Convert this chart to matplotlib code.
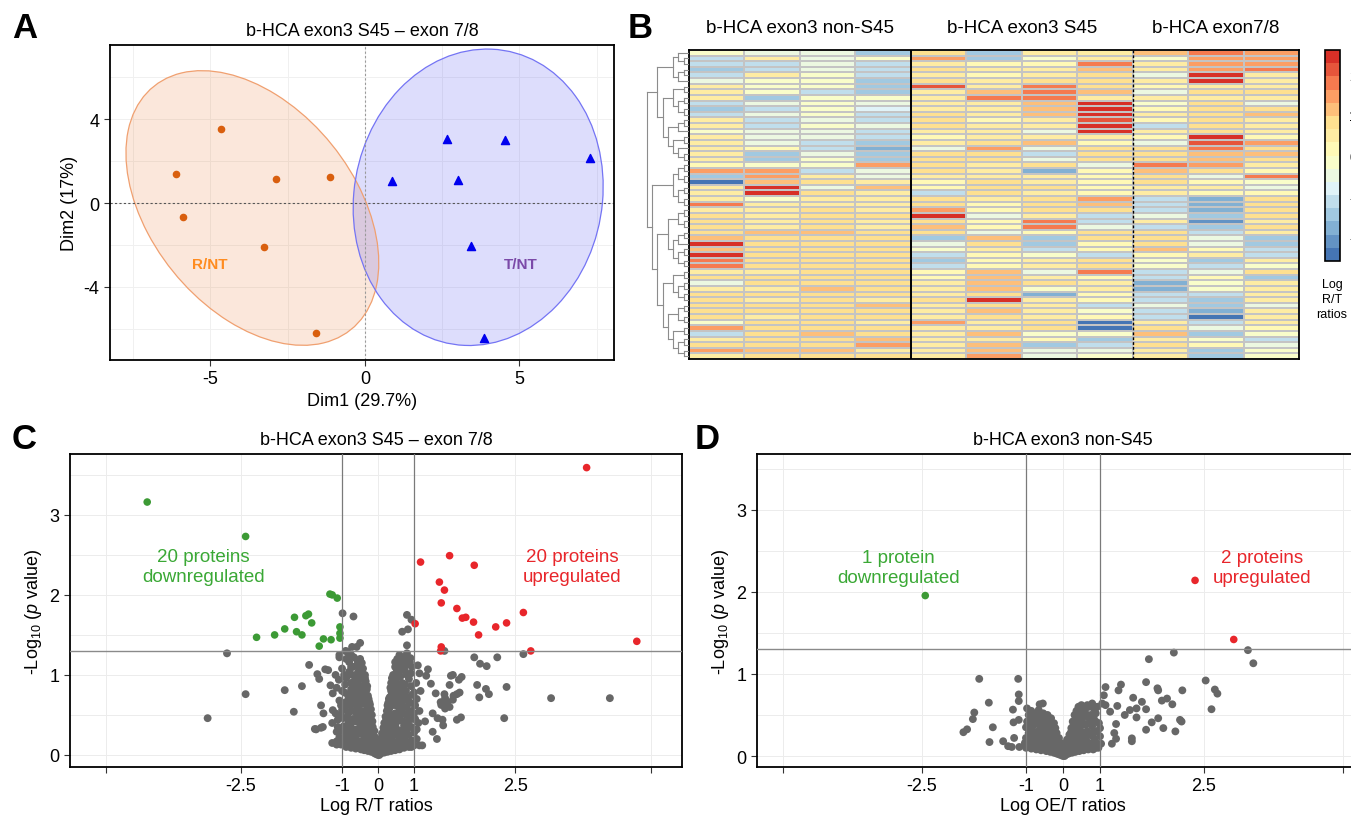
import numpy as np
import matplotlib
matplotlib.use("Agg")
import matplotlib.pyplot as plt
from matplotlib.colors import LinearSegmentedColormap, ListedColormap, Normalize
from matplotlib.patches import Ellipse
from matplotlib.cm import ScalarMappable

plt.rcParams['font.family'] = ['Liberation Sans', 'DejaVu Sans']
plt.rcParams['mathtext.fontset'] = 'custom'
plt.rcParams['mathtext.rm'] = 'Liberation Sans'
plt.rcParams['mathtext.it'] = 'Liberation Sans:italic'
plt.rcParams['axes.unicode_minus'] = False

# ---------------- panel A: PCA ----------------
rnt_x = [-4.65, -6.11, -2.89, -1.12, -5.90, -3.26, -1.57]
rnt_y = [3.56, 1.38, 1.14, 1.26, -0.68, -2.10, -6.22]
tnt_x = [0.88, 2.67, 3.02, 4.52, 7.28, 3.43, 3.85]
tnt_y = [1.07, 3.05, 1.11, 3.02, 2.15, -2.03, -6.45]
ellipse_level = 0.8

# ---------------- panel B: heatmap ----------------
group_names = ["b-HCA exon3 non-S45", "b-HCA exon3 S45", "b-HCA exon7/8"]
group_sizes = [4, 4, 3]
heat_values = [
    [-0.3, -0.6, -0.6, -1.5, 0.8, -1.5, 0.35, 0.55, 1.1, 1.8, 1.4],
    [-1.0, 0.55, -0.6, -0.2, 1.4, -1.5, -0.2, 0.55, -0.2, 1.4, 1.4],
    [-1.0, -1.0, -0.6, -1.0, 0.55, 0.1, 0.1, 1.9, 0.55, 1.4, 1.5],
    [-1.4, -1.0, -0.6, -1.0, 0.8, 0.35, 0.55, 1.1, 0.55, 1.4, 1.9],
    [-1.0, 0.35, -0.3, -1.0, 0.55, 0.1, 0.55, 0.8, -0.6, 2.4, 0.55],
    [-0.6, -0.2, -0.3, -1.4, 0.8, 0.35, 0.8, 0.8, 0.35, 2.4, 0.4],
    [0.35, -0.1, -0.2, -1.5, 2.1, 0.55, 1.8, 0.8, 0.0, 0.55, 0.55],
    [0.35, -0.2, -1.0, -1.6, 0.55, 1.1, 1.9, 1.1, -0.6, 0.8, 0.7],
    [0.45, -1.5, -0.2, -0.2, 0.55, 1.8, 1.9, 0.35, 0.35, 0.55, 0.55],
    [-1.0, -0.6, -0.3, -0.6, 0.55, 0.35, 1.1, 2.4, -0.3, 0.8, -0.6],
    [-1.4, -1.0, -0.3, -0.9, 0.55, 0.35, 1.1, 2.3, 0.2, 0.8, 0.7],
    [-1.0, -0.6, -0.2, -1.0, 0.8, 0.35, 1.0, 2.3, 0.55, 0.8, 1.0],
    [0.45, -1.0, -0.6, -1.0, 0.7, 0.2, 0.55, 2.2, 0.1, 0.8, 0.55],
    [0.35, -1.0, -0.3, -0.6, 0.8, 0.55, 0.35, 2.3, -1.0, 0.8, 0.55],
    [-0.1, -0.6, -0.6, -1.0, 0.35, 0.55, -0.6, 2.3, 0.55, 0.8, 0.55],
    [0.55, -0.6, -0.6, -1.0, 0.1, 0.55, 0.55, 0.35, 0.1, 2.5, 0.1],
    [0.55, -0.6, -1.0, -1.5, 0.35, 0.7, 1.1, 0.2, -0.6, 2.0, 1.3],
    [0.35, 0.1, -1.0, -1.8, -0.6, 1.3, -0.6, 0.7, 0.7, 1.8, 0.8],
    [0.55, -1.4, -0.6, -1.5, 0.8, 0.8, -1.0, 0.7, 0.8, 1.1, 1.1],
    [0.55, -1.4, -0.3, -1.5, 0.8, 0.8, -0.6, 0.7, 0.7, 1.1, 0.8],
    [0.1, -0.1, -0.2, 1.3, 0.7, 0.55, 0.7, -0.6, 1.9, 1.6, 0.55],
    [1.5, 1.6, -1.0, -0.6, 0.8, 0.35, -1.7, 0.0, 1.1, 0.8, 0.0],
    [-1.5, 1.3, 0.45, -0.6, 0.55, 0.55, 0.45, 0.1, 0.8, -0.6, 1.9],
    [-2.4, 1.1, 0.7, 0.55, 0.1, 0.8, 0.55, 0.1, 0.7, 0.1, -0.3],
    [0.55, 2.3, -0.6, 1.1, 0.1, 0.8, 0.7, 0.1, 0.35, 0.35, -0.6],
    [0.35, 2.3, 0.8, 0.55, -1.0, 0.7, 0.55, 0.1, 0.55, 0.1, 0.0],
    [0.35, -0.1, 0.55, 0.55, 0.7, 0.45, 0.9, 1.3, -1.0, -1.7, 0.7],
    [1.8, 0.35, 0.45, 0.55, 0.8, 0.1, 0.8, 1.1, -1.0, -1.7, 0.8],
    [0.55, 0.35, 0.7, 0.45, 1.5, 0.0, 0.8, 0.7, -1.0, -1.7, 0.8],
    [0.7, 0.35, 0.7, 0.7, 2.3, -0.6, 0.55, -1.0, -0.6, -1.5, 0.8],
    [0.7, 0.45, 0.7, 0.45, 0.8, 0.0, 1.9, -1.0, 0.55, -2.1, 0.55],
    [0.8, 0.45, 0.8, 0.35, 1.1, 0.1, 1.8, -0.6, -1.0, -1.4, 0.8],
    [0.8, 1.1, 1.1, 0.7, 0.7, -0.6, 0.1, 0.7, 0.7, -1.0, 0.55],
    [1.1, 0.8, 0.7, 0.7, -1.4, 1.2, -1.4, 0.7, 0.7, -0.6, -1.4],
    [2.3, 0.9, 0.7, 0.7, -0.6, 0.8, -1.4, 0.1, 0.7, -0.6, -1.4],
    [1.2, 0.8, 0.7, 0.7, -0.2, 0.45, -1.0, 0.1, 1.2, 0.0, -1.0],
    [2.3, 0.8, 0.7, 0.7, -1.0, 0.1, -0.2, -1.0, 0.0, 0.35, -1.3],
    [1.9, 0.8, 0.7, 0.7, -1.4, 0.0, 0.45, 0.7, -0.1, -1.4, 0.45],
    [1.9, 0.8, 0.7, 0.7, -1.0, 0.1, 0.35, 0.8, -0.2, -1.2, -0.1],
    [0.55, 0.35, 0.7, 0.7, 0.1, 1.1, -0.6, 1.9, -1.0, -0.6, 0.7],
    [0.7, 0.8, 0.7, 0.8, 0.1, 1.2, 0.55, 0.1, -1.0, 0.0, -1.6],
    [-0.6, 0.8, 0.7, 0.7, 0.55, 1.2, 0.7, 0.35, -1.9, -0.2, 0.45],
    [0.55, 0.35, 1.1, 0.8, 0.55, 1.2, -0.1, 0.45, -1.9, -0.2, 0.45],
    [0.8, 0.7, 0.8, 0.8, 0.45, 0.9, -1.9, 0.2, -1.0, -1.2, 0.55],
    [0.8, 0.45, 0.8, 0.35, 0.7, 2.3, 0.35, 0.1, -1.0, -1.4, 0.55],
    [0.8, 0.8, 0.8, 1.2, 0.55, 0.7, 0.35, -1.0, -0.6, -1.5, -0.6],
    [0.8, 0.8, 0.8, 0.8, 0.35, 1.1, 0.35, -0.1, -1.0, -1.8, 0.45],
    [0.8, 0.45, 0.8, 0.8, 0.55, 0.8, 0.35, 0.0, -1.2, -2.4, 0.55],
    [-0.2, 0.7, 0.8, 0.55, 1.4, 0.45, 0.8, -2.3, 0.45, -1.0, 0.45],
    [1.5, 0.8, 0.8, 0.8, 0.35, 0.45, 0.7, -2.4, 0.7, -0.6, 0.0],
    [-1.0, 0.8, 1.1, 0.8, 0.35, 1.1, -0.1, -0.2, 1.2, -1.4, -0.1],
    [0.45, 0.8, 0.8, 1.1, 0.45, 0.55, 0.1, -1.5, 0.55, -0.2, -1.0],
    [0.8, 0.8, 0.8, 1.5, 0.35, 1.1, -1.5, -1.0, 0.8, 0.0, -0.6],
    [1.3, 1.2, 1.1, 0.45, 0.45, 1.2, -0.6, -0.6, 0.55, -1.5, -0.2],
    [0.55, 0.8, 0.8, 0.7, 0.35, 1.6, -0.6, -0.2, 0.55, -1.5, -0.2],
]
row_tree = [
    [[[0, [1, 2]], [[3, 4], 5]],
     [[[6, 7], [[8, 9], [10, 11]]], [[[12, 13], 14], [[15, 16], [17, [18, 19]]]]]],
    [[[[20, 21], [22, 23]], [[24, 25], [26, 27]]],
     [[[[28, 29], [30, 31]], [[[32, 33], 34], [[35, 36], [37, 38]]]],
      [[[39, 40], [[41, 42], [43, 44]]],
       [[[45, 46], [47, 48]], [[49, 50], [[51, 52], [53, 54]]]]]]],
]
heat_palette = ["#4575B4", "#91BFDB", "#E0F3F8", "#FFFFBF", "#FEE090", "#FC8D59", "#D73027"]
cbar_ticks = [-2, -1, 0, 1, 2]

# ---------------- panels C / D: volcano ----------------
vol_ticks = [-4, -2.5, -1, 0, 1, 2.5, 4]
vol_ticklabels = ["", "-2.5", "-1", "0", "1", "2.5", ""]

c_down = [(-3.57, 3.16), (-2.44, 2.73), (-2.30, 1.47), (-2.06, 1.50), (-1.92, 1.575),
          (-1.78, 1.72), (-1.75, 1.54), (-1.67, 1.50), (-1.61, 1.74), (-1.57, 1.76),
          (-1.52, 1.65), (-1.40, 1.36), (-1.33, 1.45), (-1.22, 2.01), (-1.18, 2.00),
          (-1.20, 1.44), (-1.09, 1.96), (-1.04, 1.60), (-1.04, 1.52), (-1.04, 1.46)]
c_up = [(3.33, 3.59), (1.12, 2.41), (1.60, 2.49), (1.96, 2.37), (1.44, 2.16),
        (1.52, 2.06), (1.47, 1.90), (1.71, 1.83), (1.79, 1.71), (1.84, 1.72),
        (1.95, 1.66), (2.02, 1.50), (2.25, 1.60), (2.39, 1.65), (2.60, 1.78),
        (2.69, 1.30), (1.02, 1.64), (1.47, 1.35), (1.46, 1.30), (3.86, 1.42)]
c_grey = [
    (-2.67, 1.27), (-2.44, 0.76), (-2.90, 0.46), (-1.92, 0.81), (-1.79, 0.54), (-1.67, 0.86),
    (-1.56, 1.125), (-1.43, 1.01), (-1.45, 0.32), (-1.34, 0.35), (-1.25, 1.06), (-0.99, 1.77),
    (-0.77, 1.73), (-0.62, 1.40), (-0.70, 1.35), (-0.93, 1.30), (-1.05, 1.22), (-0.86, 1.22),
    (0.86, 1.75), (0.95, 1.69), (0.76, 1.54), (0.86, 1.37), (0.88, 1.57), (1.52, 1.30),
    (1.96, 1.22), (2.04, 1.14), (2.13, 1.11), (2.27, 1.22), (2.60, 1.26), (1.65, 1.0),
    (1.78, 0.975), (1.74, 0.94), (1.60, 0.875), (2.00, 0.875), (2.12, 0.825), (2.16, 0.76),
    (2.39, 0.85), (1.71, 0.76), (1.75, 0.78), (2.03, 0.72), (2.36, 0.46), (1.71, 0.44),
    (1.77, 0.47), (2.93, 0.71), (3.58, 0.71), (1.52, 0.76), (1.53, 0.58), (1.47, 0.625),
    (1.41, 0.46), (1.49, 0.44), (1.65, 0.69), (1.57, 0.66),
    (-1.30, 1.07), (-1.40, 0.95), (-1.21, 0.87), (-1.17, 0.77), (-1.37, 0.62), (-1.33, 0.52),
    (-1.47, 0.325), (-1.37, 0.34), (-1.17, 0.56), (-1.10, 0.29), (-1.18, 0.15), (-1.10, 0.17),
    (1.25, 1.07), (1.22, 0.99), (1.30, 0.89), (1.38, 0.77), (1.53, 0.71), (1.60, 0.60),
    (1.33, 0.52), (1.46, 0.66), (1.33, 0.29), (1.40, 0.20), (1.15, 0.12), (1.50, 0.37),
    (1.62, 0.99), (1.66, 0.74), (-0.80, 1.35), (-0.90, 1.29), (-1.05, 1.25), (-0.82, 1.25),
    (0.70, 1.25), (0.86, 1.27), (0.93, 1.21), (1.07, 1.12),
    (0.0, 0.0), (0.03, 0.02), (-0.04, 0.03), (0.08, 0.04), (-0.09, 0.05), (0.14, 0.06),
    (-0.15, 0.06), (0.2, 0.05), (-0.22, 0.07), (0.27, 0.08), (-0.3, 0.08), (0.35, 0.07),
    (-0.38, 0.09), (0.45, 0.08), (-0.47, 0.1), (0.55, 0.1), (-0.56, 0.11), (0.65, 0.11),
    (-0.66, 0.12), (0.75, 0.13), (-0.78, 0.12), (0.86, 0.14), (-0.88, 0.13), (0.05, 0.1),
    (-0.06, 0.12), (0.12, 0.14), (-0.13, 0.15), (0.24, 0.13), (-0.25, 0.14), (0.4, 0.15),
    (-0.42, 0.16), (0.6, 0.16), (-0.62, 0.17), (0.95, 0.1), (-1.02, 0.13), (-1.1, 0.13),
    (1.1, 0.12),
    (0.17, 0.2), (-0.17, 0.22), (0.22, 0.27), (-0.21, 0.3), (0.3, 0.22), (-0.32, 0.24),
    (0.38, 0.3), (-0.36, 0.33), (0.5, 0.2), (-0.52, 0.22), (0.48, 0.3), (-0.48, 0.3),
    (0.58, 0.25), (-0.6, 0.27), (0.7, 0.2), (-0.72, 0.22), (0.68, 0.3), (-0.7, 0.32),
    (0.8, 0.22), (-0.82, 0.24), (0.78, 0.32), (-0.8, 0.33), (0.9, 0.25), (-0.92, 0.26),
    (0.88, 0.34), (-0.9, 0.35), (1.0, 0.28), (-1.0, 0.3), (1.05, 0.2), (-1.05, 0.22),
    (0.27, 0.34), (-0.27, 0.35), (0.62, 0.34), (-0.62, 0.35),
    (0.3, 0.4), (-0.28, 0.42), (0.34, 0.48), (-0.3, 0.5), (0.38, 0.55), (-0.33, 0.57),
    (0.45, 0.4), (-0.44, 0.42), (0.5, 0.5), (-0.46, 0.52), (0.55, 0.42), (-0.55, 0.45),
    (0.6, 0.52), (-0.58, 0.55), (0.66, 0.43), (-0.66, 0.46), (0.72, 0.5), (-0.7, 0.52),
    (0.78, 0.42), (-0.78, 0.45), (0.84, 0.5), (-0.82, 0.55), (0.9, 0.44), (-0.9, 0.46),
    (0.95, 0.55), (-0.95, 0.58), (1.02, 0.45), (-1.02, 0.5), (0.42, 0.58), (-0.4, 0.6),
    (0.7, 0.58), (-0.68, 0.6), (1.1, 0.55), (-1.12, 0.52), (1.2, 0.42), (-1.18, 0.4),
    (0.42, 0.65), (-0.38, 0.66), (0.46, 0.72), (-0.42, 0.74), (0.5, 0.8), (-0.45, 0.82),
    (0.55, 0.65), (-0.52, 0.68), (0.6, 0.75), (-0.58, 0.76), (0.66, 0.66), (-0.64, 0.7),
    (0.72, 0.78), (-0.7, 0.8), (0.78, 0.68), (-0.76, 0.7), (0.84, 0.8), (-0.82, 0.82),
    (0.9, 0.66), (-0.88, 0.68), (0.96, 0.75), (-0.95, 0.78), (1.05, 0.7), (-1.05, 0.68),
    (1.12, 0.8), (-1.1, 0.84), (0.55, 0.84), (-0.6, 0.86),
    (0.5, 0.9), (-0.48, 0.92), (0.55, 1.0), (-0.5, 1.0), (0.6, 1.1), (-0.55, 1.08),
    (0.62, 0.92), (-0.62, 0.95), (0.68, 1.02), (-0.66, 1.04), (0.72, 1.15), (-0.7, 1.12),
    (0.76, 0.9), (-0.75, 0.92), (0.82, 1.05), (-0.8, 1.0), (0.88, 1.18), (-0.86, 1.16),
    (0.9, 0.95), (-0.92, 0.96), (0.96, 1.1), (-1.0, 1.08), (1.04, 0.9), (-1.06, 0.94),
    (0.65, 1.2), (-0.62, 1.2), (0.8, 1.22), (-0.85, 1.24), (1.1, 1.02), (-1.12, 1.0),
    (0.1, 0.0), (-0.12, 0.01), (0.18, 0.02), (-0.2, 0.02), (0.3, 0.03), (-0.32, 0.04),
    (0.4, 0.04), (-0.42, 0.05), (0.5, 0.05), (-0.52, 0.06), (0.6, 0.06), (-0.6, 0.07),
    (0.7, 0.07), (-0.72, 0.08), (0.8, 0.09), (-0.82, 0.09), (0.9, 0.1), (-0.92, 0.1),
    (1.0, 0.12), (-0.97, 0.14), (0.15, 0.1), (-0.17, 0.1), (0.3, 0.12), (-0.33, 0.13),
    (0.5, 0.14), (-0.52, 0.15), (0.7, 0.15), (-0.72, 0.16), (0.82, 0.18), (-0.86, 0.19),
    (0.95, 0.18), (-0.98, 0.2), (0.2, 0.17), (-0.24, 0.18), (0.36, 0.2), (-0.4, 0.21),
    (0.45, 0.25), (-0.45, 0.26), (0.55, 0.3), (-0.55, 0.32), (0.65, 0.25), (-0.66, 0.27),
    (0.75, 0.28), (-0.76, 0.29), (0.85, 0.3), (-0.86, 0.3), (0.95, 0.35), (-0.97, 0.36),
    (1.05, 0.32), (-1.08, 0.35), (0.33, 0.37), (-0.32, 0.39), (0.42, 0.35), (-0.4, 0.37),
    (0.52, 0.38), (-0.52, 0.38), (0.62, 0.4), (-0.62, 0.4), (0.7, 0.44), (-0.72, 0.42),
    (0.8, 0.37), (-0.82, 0.4), (0.88, 0.4), (-0.87, 0.41), (0.98, 0.45), (-0.98, 0.46),
    (1.08, 0.4), (-1.08, 0.44), (0.36, 0.44), (-0.35, 0.46), (0.44, 0.47), (-0.42, 0.5),
    (0.55, 0.48), (-0.52, 0.5), (0.65, 0.5), (-0.62, 0.52), (0.76, 0.54), (-0.76, 0.55),
    (0.88, 0.52), (-0.88, 0.52), (1.0, 0.52), (-1.0, 0.56), (0.4, 0.62), (-0.36, 0.63),
    (0.45, 0.58), (-0.44, 0.6), (0.52, 0.62), (-0.5, 0.64), (0.62, 0.62), (-0.6, 0.64),
    (0.74, 0.62), (-0.74, 0.64), (0.85, 0.6), (-0.84, 0.62), (0.94, 0.65), (-0.93, 0.66),
    (1.02, 0.62), (-1.02, 0.62), (0.44, 0.7), (-0.4, 0.7), (0.5, 0.74), (-0.48, 0.76),
    (0.58, 0.7), (-0.56, 0.72), (0.65, 0.76), (-0.64, 0.78), (0.7, 0.7), (-0.7, 0.72),
    (0.8, 0.74), (-0.8, 0.76), (0.88, 0.72), (-0.88, 0.74), (1.0, 0.78), (-1.0, 0.8),
    (0.48, 0.84), (-0.44, 0.86), (0.52, 0.88), (-0.5, 0.88), (0.6, 0.84), (-0.58, 0.84),
    (0.66, 0.88), (-0.66, 0.88), (0.74, 0.84), (-0.74, 0.86), (0.82, 0.88), (-0.82, 0.9),
    (0.94, 0.86), (-0.94, 0.88), (0.52, 0.96), (-0.5, 0.96), (0.58, 0.98), (-0.56, 1.0),
    (0.64, 1.06), (-0.62, 1.08), (0.72, 0.98), (-0.72, 1.0), (0.78, 1.08), (-0.78, 1.1),
    (0.86, 1.0), (-0.86, 1.04), (0.94, 1.02), (-0.96, 1.0), (0.6, 1.16), (-0.58, 1.15),
    (0.68, 1.12), (-0.68, 1.18), (0.76, 1.2), (-0.76, 1.22), (0.84, 1.12), (-0.82, 1.1),
    (0.92, 1.16), (-0.92, 1.2),
]

d_down = [(-2.46, 1.955)]
d_up = [(2.39, 2.14), (2.85, 1.42)]
d_grey = [
    (3.01, 1.29), (3.07, 1.13), (2.12, 1.26), (1.78, 1.18), (-1.75, 0.94), (-1.14, 0.94),
    (-1.61, 0.65), (-1.82, 0.53), (-1.84, 0.45), (-1.55, 0.35), (-1.92, 0.325), (-1.97, 0.29),
    (-1.60, 0.17), (-1.39, 0.18), (-1.31, 0.12), (-1.13, 0.75), (-1.13, 0.67), (-1.23, 0.565),
    (-1.13, 0.44), (-0.73, 0.63), (-0.66, 0.64), (-0.98, 0.58), (-1.22, 0.41), (-1.21, 0.22),
    (-1.25, 0.11), (-1.12, 0.11),
    (1.32, 0.80), (1.36, 0.87), (1.74, 0.90), (1.90, 0.825), (1.91, 0.80), (2.23, 0.80),
    (2.52, 0.92), (2.63, 0.81), (2.66, 0.76), (2.59, 0.57), (1.55, 0.71), (1.68, 0.66),
    (1.74, 0.57), (1.91, 0.46), (1.96, 0.675), (2.03, 0.70), (2.10, 0.63), (2.20, 0.44),
    (2.22, 0.42), (2.14, 0.30), (1.98, 0.34), (1.74, 0.32), (1.82, 0.41), (1.53, 0.215),
    (1.53, 0.18), (1.25, 0.28), (1.28, 0.39), (1.42, 0.50), (1.60, 0.58), (1.18, 0.54),
    (1.10, 0.62), (1.07, 0.74), (1.10, 0.84), (1.04, 0.64), (1.30, 0.61), (1.50, 0.56),
    (1.60, 0.47), (1.21, 0.15), (1.28, 0.21),
    (0.0, 0.0), (0.04, 0.02), (-0.05, 0.02), (0.1, 0.03), (-0.1, 0.04), (0.16, 0.05),
    (-0.17, 0.05), (0.24, 0.05), (-0.25, 0.06), (0.32, 0.06), (-0.33, 0.07), (0.42, 0.07),
    (-0.43, 0.08), (0.52, 0.08), (-0.54, 0.09), (0.62, 0.09), (-0.64, 0.1), (0.72, 0.1),
    (-0.75, 0.1), (0.82, 0.11), (-0.85, 0.11), (0.92, 0.1), (-0.95, 0.12), (0.07, 0.08),
    (-0.08, 0.09), (0.2, 0.1), (-0.2, 0.11),
    (0.15, 0.15), (-0.15, 0.16), (0.22, 0.2), (-0.22, 0.22), (0.3, 0.15), (-0.3, 0.17),
    (0.3, 0.26), (-0.3, 0.28), (0.4, 0.18), (-0.4, 0.2), (0.42, 0.27), (-0.42, 0.29),
    (0.52, 0.16), (-0.52, 0.18), (0.55, 0.26), (-0.55, 0.27), (0.65, 0.18), (-0.65, 0.2),
    (0.68, 0.28), (-0.68, 0.26), (0.78, 0.16), (-0.78, 0.18), (0.8, 0.26), (-0.8, 0.28),
    (0.9, 0.2), (-0.9, 0.22), (0.95, 0.3), (-0.95, 0.28), (1.02, 0.15), (-1.02, 0.16),
    (0.36, 0.34), (-0.34, 0.34), (0.4, 0.42), (-0.38, 0.4), (0.48, 0.35), (-0.46, 0.36),
    (0.52, 0.45), (-0.5, 0.44), (0.6, 0.36), (-0.58, 0.38), (0.64, 0.46), (-0.62, 0.45),
    (0.72, 0.38), (-0.72, 0.36), (0.76, 0.48), (-0.74, 0.47), (0.85, 0.36), (-0.85, 0.38),
    (0.88, 0.46), (-0.88, 0.44), (0.98, 0.4), (-0.98, 0.42), (0.45, 0.5), (-0.55, 0.5),
    (0.5, 0.55), (0.6, 0.58), (0.7, 0.55), (0.8, 0.6), (0.9, 0.56), (-0.65, 0.52),
    (-0.8, 0.52), (-0.9, 0.55), (0.95, 0.6), (0.55, 0.6),
    (0.12, 0.0), (-0.13, 0.01), (0.2, 0.02), (-0.22, 0.02), (0.28, 0.03), (-0.3, 0.03),
    (0.38, 0.04), (-0.38, 0.04), (0.47, 0.05), (-0.48, 0.05), (0.57, 0.06), (-0.58, 0.06),
    (0.67, 0.07), (-0.7, 0.07), (0.77, 0.08), (-0.8, 0.08), (0.87, 0.08), (-0.9, 0.09),
    (0.97, 0.1), (-1.0, 0.1), (0.12, 0.1), (-0.13, 0.12), (0.26, 0.1), (-0.27, 0.12),
    (0.36, 0.11), (-0.37, 0.12), (0.46, 0.12), (-0.47, 0.13), (0.58, 0.12), (-0.59, 0.13),
    (0.7, 0.13), (-0.7, 0.14), (0.84, 0.14), (-0.85, 0.15), (0.95, 0.15), (-0.95, 0.17),
    (0.25, 0.16), (-0.25, 0.18), (0.35, 0.22), (-0.35, 0.23), (0.46, 0.2), (-0.46, 0.22),
    (0.5, 0.23), (-0.6, 0.24), (0.6, 0.22), (-0.72, 0.22), (0.72, 0.22), (-0.85, 0.24),
    (0.86, 0.24), (-1.0, 0.22), (1.0, 0.24), (0.35, 0.29), (-0.36, 0.3), (0.48, 0.3),
    (-0.48, 0.31), (0.6, 0.3), (-0.6, 0.32), (0.74, 0.3), (-0.74, 0.31), (0.88, 0.3),
    (-0.88, 0.32), (1.0, 0.34), (-1.0, 0.35), (0.42, 0.37), (-0.4, 0.36), (0.55, 0.38),
    (-0.53, 0.4), (0.66, 0.4), (-0.66, 0.4), (0.8, 0.42), (-0.8, 0.42), (0.92, 0.42),
    (-0.92, 0.4), (0.48, 0.46), (-0.46, 0.46), (0.58, 0.5), (-0.6, 0.48), (0.68, 0.52),
    (-0.7, 0.5), (0.82, 0.5), (-0.84, 0.48), (0.92, 0.52), (-0.95, 0.5), (0.62, 0.62),
    (0.75, 0.62), (0.85, 0.64), (-0.75, 0.56),
]

W, H = 1351, 820


def box(left, top, right, bottom):
    return [left / W, 1 - bottom / H, (right - left) / W, (bottom - top) / H]


def fwd(x):
    x = np.asarray(x, dtype=float)
    return np.sign(x) * np.abs(x) ** 1.46


def inv(y):
    y = np.asarray(y, dtype=float)
    return np.sign(y) * np.abs(y) ** (1 / 1.46)


def conf_ellipse(ax, xs, ys, level, face, edge):
    xs, ys = np.asarray(xs), np.asarray(ys)
    d = len(xs) - 1
    fq = d / 2 * ((1 - level) ** (-2 / d) - 1)
    r = np.sqrt(2 * fq)
    vals, vecs = np.linalg.eigh(np.cov(xs, ys))
    angle = np.degrees(np.arctan2(vecs[1, 1], vecs[0, 1]))
    ax.add_patch(Ellipse((xs.mean(), ys.mean()), 2 * r * np.sqrt(vals[1]), 2 * r * np.sqrt(vals[0]),
                         angle=angle, facecolor=face, edgecolor='none', alpha=0.17, zorder=1))
    ax.add_patch(Ellipse((xs.mean(), ys.mean()), 2 * r * np.sqrt(vals[1]), 2 * r * np.sqrt(vals[0]),
                         angle=angle, facecolor='none', edgecolor=edge, lw=0.9, zorder=2))


def draw_tree(ax, node):
    if isinstance(node, int):
        return node + 0.5, 0
    pos, hs = [], []
    for ch in node:
        p, h = draw_tree(ax, ch)
        pos.append(p)
        hs.append(h)
    h = max(hs) + 1
    for p, hc in zip(pos, hs):
        ax.plot([hc, h], [p, p], color='#8c8c8c', lw=0.8)
    ax.plot([h, h], [min(pos), max(pos)], color='#8c8c8c', lw=0.8)
    return (min(pos) + max(pos)) / 2, h


def frame(ax):
    for s in ax.spines.values():
        s.set_linewidth(1.3)
        s.set_color('black')
    ax.tick_params(labelsize=13, length=4, width=0.8, color='#333333')
    ax.tick_params(which='minor', length=0)


def volcano(ax, grey, down, up, xlim, ylim, title, xlabel, down_txt, down_pos, up_txt, up_pos):
    ax.set_xscale('function', functions=(fwd, inv))
    ax.set_xlim(*xlim)
    ax.set_ylim(*ylim)
    g = np.array(grey)
    dn = np.array(down)
    upa = np.array(up)
    ax.scatter(g[:, 0], g[:, 1], s=32, color='#676767', edgecolors='none', zorder=2)
    ax.scatter(dn[:, 0], dn[:, 1], s=30, color='#3c9a35', edgecolors='none', zorder=2)
    ax.scatter(upa[:, 0], upa[:, 1], s=30, color='#e8262b', edgecolors='none', zorder=2)
    ax.axvline(-1, color='#7a7a7a', lw=0.9, zorder=3)
    ax.axvline(1, color='#7a7a7a', lw=0.9, zorder=3)
    ax.axhline(1.3, color='#8a8a8a', lw=1.0, zorder=3)
    ax.set_xticks(vol_ticks)
    ax.set_xticklabels(vol_ticklabels)
    ax.set_yticks([0, 1, 2, 3])
    ax.set_yticks([0.5, 1.5, 2.5, 3.5], minor=True)
    ax.grid(True, which='both', color='#ececec', lw=0.7, zorder=0)
    ax.set_axisbelow(True)
    frame(ax)
    ax.set_title(title, fontsize=13, pad=7)
    ax.set_xlabel(xlabel, fontsize=13, labelpad=2)
    ax.set_ylabel('-Log$_{10}$ ($p$ value)', fontsize=13)
    ax.text(*down_pos, down_txt, color='#3aa835', fontsize=13.5, ha='center', va='center',
            linespacing=1.25)
    ax.text(*up_pos, up_txt, color='#e8262b', fontsize=13.5, ha='center', va='center',
            linespacing=1.25)


fig = plt.figure(figsize=(W / 100, H / 100), dpi=100)

# ---- A ----
axA = fig.add_axes(box(110, 46, 614, 361))
conf_ellipse(axA, rnt_x, rnt_y, ellipse_level, '#E8742A', '#F0A070')
conf_ellipse(axA, tnt_x, tnt_y, ellipse_level, '#3A3AF0', '#7474F4')
axA.axhline(0, color='#555555', lw=0.8, ls=(0, (2, 2)), zorder=2)
axA.axvline(0, color='#9a9a9a', lw=0.8, ls=(0, (2, 2)), zorder=2)
axA.scatter(rnt_x, rnt_y, s=20, color='#D95F0E', zorder=4)
axA.scatter(tnt_x, tnt_y, s=34, marker='^', color='#0000EE', zorder=4)
axA.text(-5.03, -2.93, 'R/NT', color='#FF8C20', fontsize=11, fontweight='bold', ha='center', va='center')
axA.text(5.04, -2.93, 'T/NT', color='#7B4AA8', fontsize=11, fontweight='bold', ha='center', va='center')
axA.set_xlim(-8.25, 8.06)
axA.set_ylim(-7.5, 7.55)
axA.set_xticks([-5, 0, 5])
axA.set_xticks([-7.5, -2.5, 2.5, 7.5], minor=True)
axA.set_yticks([-4, 0, 4])
axA.set_yticks([-6, -2, 2, 6], minor=True)
axA.grid(True, which='both', color='#f0f0f0', lw=0.7, zorder=0)
axA.set_axisbelow(True)
frame(axA)
axA.set_title('b-HCA exon3 S45 \u2013 exon 7/8', fontsize=13, pad=7)
axA.set_xlabel('Dim1 (29.7%)', fontsize=13, labelpad=3)
axA.set_ylabel('Dim2 (17%)', fontsize=13)

# ---- B ----
vals = np.array(heat_values)
nrow, ncol = vals.shape
cmap_cont = LinearSegmentedColormap.from_list('pheat', heat_palette, N=256)
cmap = ListedColormap(cmap_cont(np.linspace(0, 1, 16)))
norm = Normalize(vmin=-2.6, vmax=2.6)

axH = fig.add_axes(box(689, 51, 1299, 360))
axH.pcolormesh(np.arange(ncol + 1), np.arange(nrow + 1), vals, cmap=cmap, norm=norm,
               edgecolors='#c4c4c4', linewidth=0.25)
axH.set_xlim(0, ncol)
axH.set_ylim(nrow, 0)
axH.set_xticks([])
axH.set_yticks([])
for s in axH.spines.values():
    s.set_linewidth(1.3)
edges = np.cumsum(group_sizes)
axH.axvline(edges[0], color='black', lw=1.4)
axH.axvline(edges[1], color='black', lw=1.0, ls=(0, (2, 1.5)))
starts = edges - np.array(group_sizes)
for name, s0, n in zip(group_names, starts, group_sizes):
    axH.text(s0 + n / 2, 1.074, name, transform=axH.get_xaxis_transform(),
             ha='center', va='center', fontsize=13.5)

axD = fig.add_axes(box(646, 51, 689, 360))
_, root_h = draw_tree(axD, row_tree)
axD.set_ylim(nrow, 0)
axD.set_xlim(root_h * 1.02, 0)
axD.axis('off')

axCb = fig.add_axes(box(1325, 51, 1340, 262))
cb = fig.colorbar(ScalarMappable(norm=norm, cmap=cmap), cax=axCb, ticks=cbar_ticks)
cb.outline.set_linewidth(1.2)
axCb.tick_params(length=0, pad=6.5, labelsize=10)
fig.text(1332 / W, 1 - 300 / H, 'Log\nR/T\nratios', ha='center', va='center', fontsize=9,
         linespacing=1.3)

# ---- C ----
axC = fig.add_axes(box(70, 455, 682, 768))
volcano(axC, c_grey, c_down, c_up, (-4.35, 4.31), (-0.15, 3.76),
        'b-HCA exon3 S45 \u2013 exon 7/8', 'Log R/T ratios',
        '20 proteins\ndownregulated', (-2.95, 2.35), '20 proteins\nupregulated', (3.17, 2.35))

# ---- D ----
axV = fig.add_axes(box(757, 455, 1369, 768))
volcano(axV, d_grey, d_down, d_up, (-4.25, 4.25), (-0.134, 3.68),
        'b-HCA exon3 non-S45', 'Log OE/T ratios',
        '1 protein\ndownregulated', (-2.78, 2.3), '2 proteins\nupregulated', (3.17, 2.3))

for letter, x, y in [('A', 12, 12), ('B', 628, 12), ('C', 12, 423), ('D', 695, 423)]:
    fig.text(x / W, 1 - y / H, letter, fontsize=25, fontweight='bold', ha='left', va='top')

fig.savefig('out.png', dpi=100)
